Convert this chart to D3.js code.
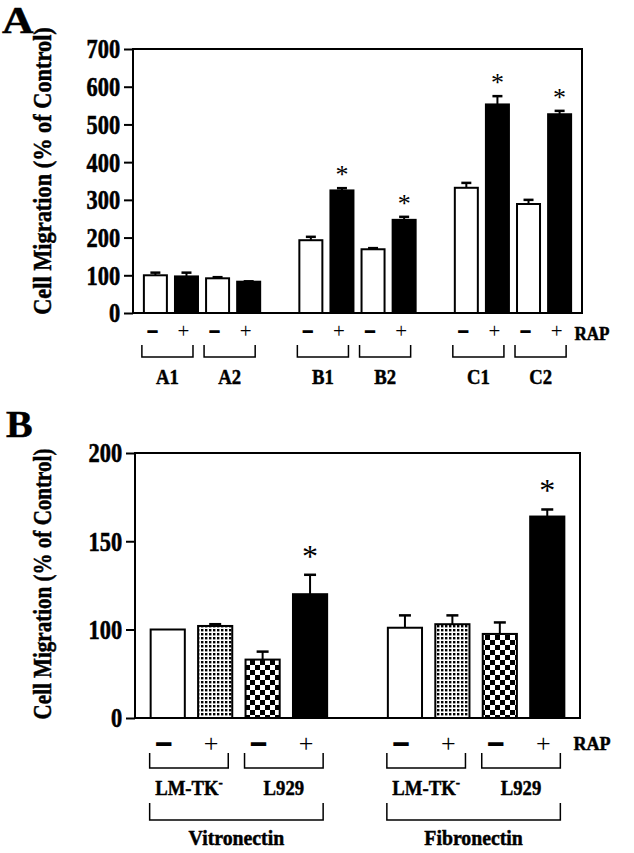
<!DOCTYPE html>
<html><head><meta charset="utf-8">
<script src="https://cdn.jsdelivr.net/npm/d3@7"></script>
<style>body{margin:0;background:#fff}svg{display:block}text{font-family:"Liberation Serif","Times New Roman",serif;fill:#000}</style>
</head><body><svg id="c" width="634" height="853"></svg>
<script>
// ---------- Panel A data ----------
const clustersA = [["A1","A2"],["B1","B2"],["C1","C2"]];
const groupsA = ["A1","A2","B1","B2","C1","C2"];
const minusA = [100, 92, 193, 169, 332, 289];
const minusErrA = [7, 3, 9, 3, 13, 11];
const plusA = [97, 83, 325, 247, 553, 527];
const plusErrA = [10, 1, 6, 8, 22, 9];
const sigPlusA = [false, false, true, true, true, true];
const ticksA = [0,100,200,300,400,500,600,700];

// ---------- Panel B data ----------
const substratesB = ["Vitronectin","Fibronectin"];
const cellsB = ["LM-TK","L929"];
const rapB = ["-","+","-","+","-","+","-","+"];
const valuesB = [100, 102, 66, 120, 101, 103, 95, 164];
const errB = [0, 1, 9, 11, 7, 5, 9, 4];
const fillB = ["white","dots","checker","black","white","dots","checker","black"];
const sigB = [false,false,false,true,false,false,false,true];
const ticksB = [0,100,150,200];

const svg = d3.select("#c");
const defs = svg.append("defs");
const pd = defs.append("pattern").attr("id","dots").attr("patternUnits","userSpaceOnUse").attr("width",4).attr("height",4);
pd.append("rect").attr("width",4).attr("height",4).attr("fill","#fff");
pd.append("rect").attr("x",1).attr("y",1).attr("width",2.4).attr("height",2.4).attr("fill","#000");
const pc = defs.append("pattern").attr("id","checker").attr("patternUnits","userSpaceOnUse").attr("width",10).attr("height",10);
pc.append("rect").attr("width",10).attr("height",10).attr("fill","#fff");
pc.append("rect").attr("width",5).attr("height",5).attr("fill","#000");
pc.append("rect").attr("x",5).attr("y",5).attr("width",5).attr("height",5).attr("fill","#000");
const fillOf = f => f==="white" ? "#fff" : f==="black" ? "#000" : `url(#${f})`;

// text helper with horizontal compression
function txt(g, x, y, s, size, sx, bold, anchor, rot){
  const t = g.append("text")
    .attr("transform",`translate(${x},${y})${rot?" rotate("+rot+")":""} scale(${sx},1)`)
    .attr("text-anchor",anchor||"middle").attr("font-size",size).attr("fill","#000");
  if(bold) t.attr("font-weight","bold").attr("stroke","#000").attr("stroke-width",0.5);
  t.text(s);
  return t;
}
function sign(g, cx, y, s, size, stroke){
  if(s==="-") g.append("text").attr("x",cx).attr("y",y).attr("text-anchor","middle").attr("font-size",size)
      .attr("font-weight","bold").attr("stroke","#000").attr("stroke-width",stroke).attr("fill","#000").text("\u2013");
  else g.append("text").attr("x",cx).attr("y",y).attr("text-anchor","middle").attr("font-size",size).attr("fill","#000").text("+");
}

function axis(g, y, ticks, x0){
  const a = g.append("g").attr("transform",`translate(${x0},0)`)
    .call(d3.axisLeft(y).tickValues(ticks).tickSize(9).tickSizeOuter(0).tickPadding(7).tickFormat(d3.format("d")));
  a.select(".domain").remove();
  a.selectAll(".tick line").attr("stroke","#000").attr("stroke-width",2);
  a.selectAll(".tick text").attr("font-size",28).attr("font-weight","bold").attr("fill","#000")
    .attr("stroke","#000").attr("stroke-width",0.6)
    .attr("font-family","Liberation Serif").attr("transform","scale(0.8,1)");
}

// ================= Panel A =================
const slotsA = [];
clustersA.forEach((c,i)=>{ if(i>0) slotsA.push("gap"+i); c.forEach(g=>{slotsA.push(g+"-");slotsA.push(g+"+");}); });
const LA=133, RA=582, TA=49, BA=313;
const xA = d3.scaleBand().domain(slotsA).range([LA,RA]).paddingInner(0.26).paddingOuter(0.35);
const yA = d3.scaleLinear().domain([0,700]).range([BA,TA]);
const gA = svg.append("g");
const barsA = [];
groupsA.forEach((g,i)=>{
  barsA.push({k:g+"-",v:minusA[i],e:minusErrA[i],fill:"white",sig:false,s:"-"});
  barsA.push({k:g+"+",v:plusA[i],e:plusErrA[i],fill:"black",sig:sigPlusA[i],s:"+"});
});
const bwA = xA.bandwidth();
barsA.forEach(d=>{
  const x=xA(d.k), cx=x+bwA/2;
  gA.append("line").attr("x1",cx).attr("x2",cx).attr("y1",yA(d.v)).attr("y2",yA(d.v+d.e)).attr("stroke","#000").attr("stroke-width",2);
  gA.append("line").attr("x1",cx-5).attr("x2",cx+5).attr("y1",yA(d.v+d.e)).attr("y2",yA(d.v+d.e)).attr("stroke","#000").attr("stroke-width",2.5);
  gA.append("rect").attr("x",x).attr("y",yA(d.v)).attr("width",bwA).attr("height",BA-yA(d.v))
    .attr("fill",fillOf(d.fill)).attr("stroke","#000").attr("stroke-width",2);
  if(d.sig) gA.append("text").attr("x",cx).attr("y",yA(d.v+d.e)-5).attr("text-anchor","middle").attr("font-size",26).text("*");
  if(d.s==="-") sign(gA, cx-3, 336, "-", 17, 1.6);
  else sign(gA, cx-3, 338, "+", 21);
});
gA.append("rect").attr("x",LA).attr("y",TA).attr("width",RA-LA).attr("height",BA-TA).attr("fill","none").attr("stroke","#000").attr("stroke-width",2);
axis(gA,yA,ticksA,LA);
txt(gA, 592, 340, "RAP", 18, 0.95, true);
groupsA.forEach(g=>{
  const l=xA(g+"-")-2, r=xA(g+"+")+bwA-5;
  gA.append("path").attr("d",`M${l},345V357H${r}V345`).attr("fill","none").attr("stroke","#000").attr("stroke-width",1.5);
  txt(gA, (l+r)/2, 384, g, 22, 0.85, true);
});
txt(gA, 51, 171, "Cell Migration (% of Control)", 26, 0.86, true, "middle", -90);
txt(gA, 2, 33, "A", 38, 1.15, true, "start");

// ================= Panel B =================
const slotsB = [];
substratesB.forEach((s,i)=>{ if(i>0) slotsB.push("gap"+i); cellsB.forEach(c=>{ slotsB.push(s+c+"-"); slotsB.push(s+c+"+"); }); });
const LB=135, RB=580, TB=453, BB=718;
const xB = d3.scaleBand().domain(slotsB).range([LB,RB]).paddingInner(0.28).paddingOuter(0.33);
const yB = d3.scaleLinear().domain([0,100,200]).range([BB,629.5,TB]);
const gB = svg.append("g");
const bwB = xB.bandwidth();
const keysB = slotsB.filter(k=>!k.startsWith("gap"));
keysB.forEach((k,i)=>{
  const x=xB(k), cx=x+bwB/2, v=valuesB[i], e=errB[i];
  if(e>0){
    gB.append("line").attr("x1",cx).attr("x2",cx).attr("y1",yB(v)).attr("y2",yB(v+e)).attr("stroke","#000").attr("stroke-width",2);
    gB.append("line").attr("x1",cx-6).attr("x2",cx+6).attr("y1",yB(v+e)).attr("y2",yB(v+e)).attr("stroke","#000").attr("stroke-width",2.5);
  }
  gB.append("rect").attr("x",x).attr("y",yB(v)).attr("width",bwB).attr("height",BB-yB(v))
    .attr("fill",fillOf(fillB[i])).attr("stroke","#000").attr("stroke-width",2);
  if(sigB[i]) gB.append("text").attr("x",cx).attr("y",yB(v+e)-8).attr("text-anchor","middle").attr("font-size",32).text("*");
  if(rapB[i]==="-") sign(gB, cx-4, 749.5, "-", 26, 2);
  else sign(gB, cx-4, 752, "+", 26);
});
gB.append("rect").attr("x",LB).attr("y",TB).attr("width",RB-LB).attr("height",BB-TB).attr("fill","none").attr("stroke","#000").attr("stroke-width",2);
axis(gB,yB,ticksB,LB);
txt(gB, 592, 750, "RAP", 19, 0.95, true);
substratesB.forEach(s=>{
  cellsB.forEach(c=>{
    const l=xB(s+c+"-")-1, r=xB(s+c+"+")+bwB-4;
    gB.append("path").attr("d",`M${l},753V768H${r}V753`).attr("fill","none").attr("stroke","#000").attr("stroke-width",1.5);
    const t = txt(gB, (l+r)/2, 795, "", 22, 0.85, true);
    t.append("tspan").text(c);
    if(c==="LM-TK") t.append("tspan").attr("dy",-8).attr("font-size",15).text("-");
  });
  const l=xB(s+cellsB[0]+"-")-1, r=xB(s+cellsB[1]+"+")+bwB-4;
  gB.append("path").attr("d",`M${l},803V820H${r}V803`).attr("fill","none").attr("stroke","#000").attr("stroke-width",1.5);
  txt(gB, (l+r)/2, 845, s, 22, 0.9, true);
});
txt(gB, 51, 584, "Cell Migration (% of Control)", 26, 0.81, true, "middle", -90);
txt(gB, 6, 437, "B", 38, 1.05, true, "start");
</script></body></html>
